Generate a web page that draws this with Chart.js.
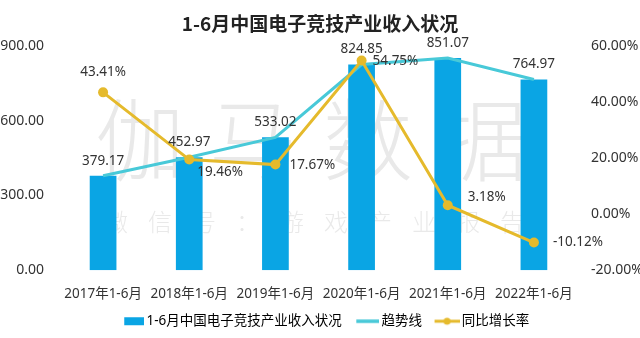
<!DOCTYPE html>
<html>
<head>
<meta charset="utf-8">
<script src="https://cdn.jsdelivr.net/npm/chart.js@4.4.0/dist/chart.umd.min.js"></script>
<style>
  html, body { margin: 0; padding: 0; background: #fff; }
  #wrap { width: 640px; height: 338px; position: relative; }
</style>
</head>
<body>
<div id="wrap"><canvas id="grafico"></canvas></div>
<script>
// dados do gráfico
const categorias = ["2017年1-6月", "2018年1-6月", "2019年1-6月", "2020年1-6月", "2021年1-6月", "2022年1-6月"];
const receita = [379.17, 452.97, 533.02, 824.85, 851.07, 764.97];
const crescimento = [43.41, 19.46, 17.67, 54.75, 3.18, -10.12];
const ticksEsquerda = [0, 300, 600, 900];
const ticksDireita = [-20, 0, 20, 40, 60];
const nomes = ["1-6月中国电子竞技产业收入状况", "趋势线", "同比增长率"];

// posição dos rótulos de porcentagem (dx, dy, alinhamento)
const posRotulos = [
  [0, -20, "center"],
  [8, 13, "left"],
  [14, 1, "left"],
  [11, 1, "left"],
  [20, -8, "left"],
  [19, 0, "left"],
];

const FONTE = '"Noto Sans", "Noto Sans CJK SC", sans-serif';
const FONTE_CJK = '"Noto Sans CJK SC", sans-serif';
const azul = "#0aa5e4";
const ciano = "#48c9d8";
const dourado = "#e5ba2c";

// símbolos da legenda (desenhados encostados à direita, perto do texto)
const LARG_SIMBOLO = 29;
function simbolo(desenhar) {
  const c = document.createElement("canvas");
  c.width = LARG_SIMBOLO + 9;
  c.height = 12;
  desenhar(c.getContext("2d"), c.width);
  return c;
}
const simboloBarra = simbolo((ctx, w) => {
  ctx.fillStyle = azul;
  ctx.fillRect(w - 20, 2, 20, 8);
});
const simboloTendencia = simbolo((ctx, w) => {
  ctx.strokeStyle = ciano;
  ctx.lineWidth = 3.5;
  ctx.beginPath();
  ctx.moveTo(w - 23, 6);
  ctx.lineTo(w, 6);
  ctx.stroke();
});
const simboloCrescimento = simbolo((ctx, w) => {
  ctx.strokeStyle = dourado;
  ctx.fillStyle = dourado;
  ctx.lineWidth = 3;
  ctx.beginPath();
  ctx.moveTo(w - 25, 6);
  ctx.lineTo(w, 6);
  ctx.stroke();
  ctx.beginPath();
  ctx.arc(w - 12.5, 6, 3.5, 0, Math.PI * 2);
  ctx.fill();
});
const simbolos = [simboloBarra, simboloTendencia, simboloCrescimento];

// marca d'água
const marcaDagua = {
  id: "marcaDagua",
  beforeDatasetsDraw(chart) {
    const ctx = chart.ctx;
    ctx.save();
    ctx.fillStyle = "rgba(200,200,200,0.4)";
    ctx.textAlign = "center";
    ctx.textBaseline = "middle";
    ctx.font = "300 90px " + FONTE_CJK;
    "伽马数据".split("").forEach((ch, i) => {
      ctx.fillText(ch, 140 + i * 114, 140);
    });
    ctx.font = "300 24px " + FONTE_CJK;
    "微信号：游戏产业报告".split("").forEach((ch, i) => {
      ctx.fillText(ch, 116 + i * 44, 222);
    });
    ctx.restore();
  },
};

// rótulos dos valores
const rotulos = {
  id: "rotulos",
  afterDatasetsDraw(chart) {
    const ctx = chart.ctx;
    ctx.save();
    ctx.fillStyle = "#333";
    ctx.font = "13.5px " + FONTE;
    ctx.textBaseline = "middle";

    const barras = chart.getDatasetMeta(0).data;
    ctx.textAlign = "center";
    barras.forEach((el, i) => {
      ctx.fillText(receita[i].toFixed(2), el.x, el.y - 15);
    });

    const pontos = chart.getDatasetMeta(2).data;
    pontos.forEach((el, i) => {
      const p = posRotulos[i];
      ctx.textAlign = p[2];
      ctx.fillText(crescimento[i].toFixed(2) + "%", el.x + p[0], el.y + p[1]);
    });
    ctx.restore();
  },
};

const ctx = document.getElementById("grafico").getContext("2d");

new Chart(ctx, {
  type: "bar",
  data: {
    labels: categorias,
    datasets: [
      {
        type: "bar",
        label: nomes[0],
        data: receita,
        backgroundColor: azul,
        barPercentage: 0.31,
        categoryPercentage: 1,
        yAxisID: "y",
        order: 3,
      },
      {
        type: "line",
        label: nomes[1],
        data: receita,
        borderColor: ciano,
        borderWidth: 3,
        pointRadius: 0,
        tension: 0,
        yAxisID: "y",
        order: 2,
      },
      {
        type: "line",
        label: nomes[2],
        data: crescimento,
        borderColor: dourado,
        backgroundColor: dourado,
        borderWidth: 3,
        pointRadius: 5,
        pointBorderWidth: 0,
        tension: 0,
        yAxisID: "y2",
        order: 1,
      },
    ],
  },
  options: {
    responsive: true,
    maintainAspectRatio: false,
    animation: false,
    layout: { padding: { left: 0, right: 0, top: 0, bottom: 0 } },
    plugins: {
      tooltip: { enabled: false },
      title: {
        display: true,
        text: "1-6月中国电子竞技产业收入状况",
        color: "#222",
        font: { family: FONTE_CJK, size: 19, weight: "bold" },
        padding: { top: 12, bottom: 11 },
      },
      legend: {
        position: "bottom",
        labels: {
          usePointStyle: true,
          pointStyleWidth: LARG_SIMBOLO,
          padding: 4,
          color: "#333",
          font: { family: FONTE, size: 13.5 },
          generateLabels: () =>
            nomes.map((n, i) => ({
              text: n,
              pointStyle: simbolos[i],
              fillStyle: "transparent",
              strokeStyle: "transparent",
              lineWidth: 0,
              datasetIndex: i,
            })),
        },
      },
    },
    scales: {
      x: {
        grid: { display: false },
        border: { display: false },
        ticks: {
          color: "#333",
          padding: 8,
          maxRotation: 0,
          autoSkip: false,
          font: { family: FONTE, size: 13.5 },
        },
      },
      y: {
        position: "left",
        min: 0,
        max: 900,
        grid: { display: false },
        border: { display: false },
        afterBuildTicks: (axis) => {
          axis.ticks = ticksEsquerda.map((v) => ({ value: v }));
        },
        // largura fixa para o eixo esquerdo
        afterFit: (axis) => {
          axis.width = 60;
        },
        ticks: {
          color: "#333",
          padding: 8,
          font: { family: FONTE, size: 14 },
          callback: (v) => Number(v).toFixed(2),
        },
      },
      y2: {
        position: "right",
        min: -20,
        max: 60,
        grid: { display: false },
        border: { display: false },
        afterBuildTicks: (axis) => {
          axis.ticks = ticksDireita.map((v) => ({ value: v }));
        },
        afterFit: (axis) => {
          axis.width = 63;
        },
        ticks: {
          color: "#333",
          padding: 6,
          font: { family: FONTE, size: 14 },
          callback: (v) => Number(v).toFixed(2) + "%",
        },
      },
    },
  },
  plugins: [marcaDagua, rotulos],
});
</script>
</body>
</html>
